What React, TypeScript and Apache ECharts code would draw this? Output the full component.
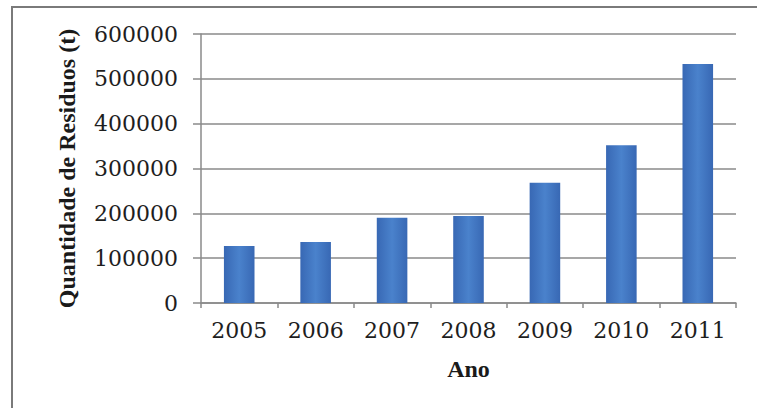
import React, { useEffect, useRef } from "react";
import * as echarts from "echarts";

const categories: string[] = ["2005", "2006", "2007", "2008", "2009", "2010", "2011"];
const values: number[] = [127000, 136000, 190000, 194000, 268000, 352000, 533000];
const yAxisTitle = "Quantidade de Residuos (t)";
const xAxisTitle = "Ano";

export default function App() {
  const ref = useRef<HTMLDivElement>(null);
  useEffect(() => {
    if (!ref.current) return;
    const chart = echarts.init(ref.current, undefined, { renderer: "svg" });
    const font = "'DejaVu Serif', 'Liberation Serif', serif";
    const titleFont = "'Liberation Serif', 'DejaVu Serif', serif";
    chart.setOption({
      animation: false,
      backgroundColor: "#ffffff",
      grid: { left: 201, right: 21, top: 34, bottom: 105, containLabel: false },
      xAxis: {
        type: "category",
        data: categories,
        name: xAxisTitle,
        nameLocation: "middle",
        nameGap: 54,
        nameTextStyle: { fontFamily: titleFont, fontSize: 24, fontWeight: "bold", color: "#1a1a1a" },
        axisLine: { show: true, lineStyle: { color: "#8a8a8a", width: 1.5 } },
        axisTick: { show: true, length: 5, lineStyle: { color: "#8a8a8a", width: 1.5 } },
        axisLabel: { fontFamily: font, fontSize: 22, color: "#1e1e1e", margin: 16 },
      },
      yAxis: {
        type: "value",
        min: 0,
        max: 600000,
        interval: 100000,
        name: yAxisTitle,
        nameLocation: "middle",
        nameGap: 122,
        nameRotate: 90,
        nameTextStyle: { fontFamily: titleFont, fontSize: 24, fontWeight: "bold", color: "#1a1a1a" },
        axisLine: { show: true, lineStyle: { color: "#8a8a8a", width: 1.5 } },
        axisTick: { show: true, length: 8, lineStyle: { color: "#8a8a8a", width: 1.5 } },
        axisLabel: {
          fontFamily: font,
          fontSize: 22,
          color: "#1e1e1e",
          margin: 23,
          formatter: (v: number) => String(v),
        },
        splitLine: { show: true, lineStyle: { color: "#8a8a8a", width: 1.5 } },
      },
      series: [
        {
          type: "bar",
          data: values,
          barWidth: "40%",
          itemStyle: {
            color: new echarts.graphic.LinearGradient(0, 0, 1, 0, [
              { offset: 0, color: "#3868b4" },
              { offset: 0.5, color: "#4a82cc" },
              { offset: 1, color: "#3868b4" },
            ]),
          },
        },
      ],
      graphic: [
        {
          type: "polyline",
          silent: true,
          shape: { points: [[12, 420], [12, 7], [770, 7]] },
          style: { stroke: "#7a7a7a", lineWidth: 2, fill: "none" },
        },
      ],
    });
    return () => chart.dispose();
  }, []);
  return (
    <div
      ref={ref}
      style={{ width: 757, height: 408, position: "absolute", left: 0, top: 0 }}
    />
  );
}
